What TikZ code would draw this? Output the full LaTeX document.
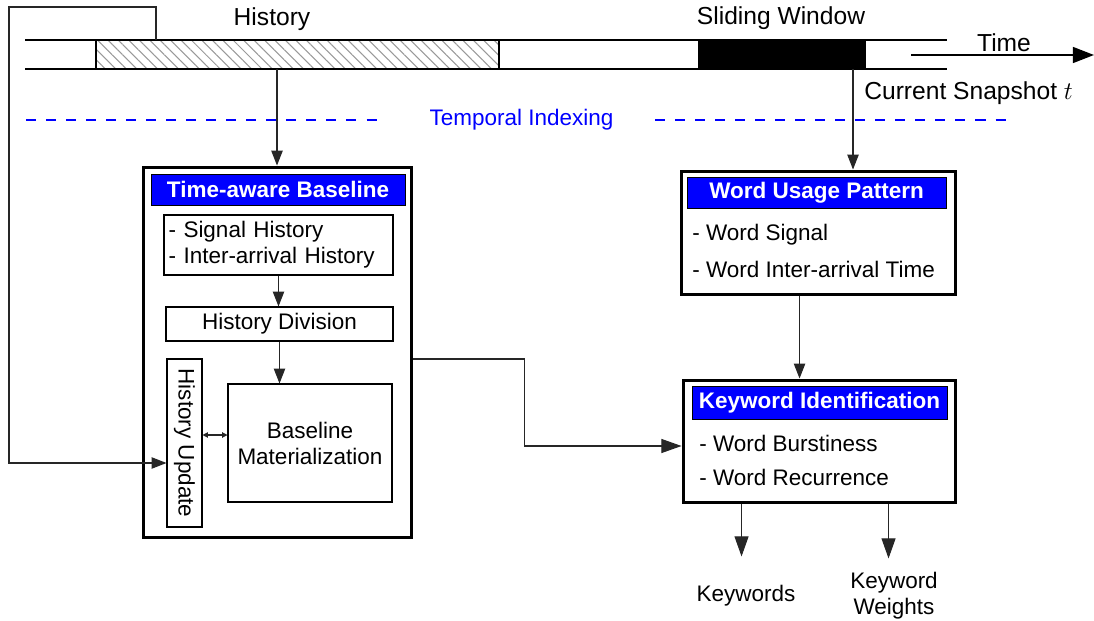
\documentclass[tikz,border=0pt]{standalone}
\usepackage{fontspec}
\setmainfont{Liberation Sans}
\usetikzlibrary{arrows.meta,patterns.meta,calc}

\newcommand\bodyfont{\fontsize{12.8pt}{14.8pt}\selectfont}
\newcommand\largefont{\fontsize{14pt}{16pt}\selectfont}

\begin{document}
\begin{tikzpicture}[x=0.02cm,y=-0.02cm,
  every node/.style={inner sep=0pt,font=\bodyfont},
  link/.style={draw=black!85,line width=0.6pt},
  midarr/.style={link,-{Triangle[length=8.5pt,width=6.5pt]}},
  bigarr/.style={link,-{Triangle[length=11.5pt,width=8pt]}},
  twoway/.style={link,{Triangle[length=3pt,width=3pt]}-{Triangle[length=3pt,width=3pt]}},
  outerbox/.style={draw,line width=1.7pt,rectangle},
  innerbox/.style={draw,line width=0.6pt,rectangle},
  titlebar/.style={draw,line width=0.5pt,fill=blue,text=white,font=\bodyfont\bfseries},
  band/.style={line width=1.1pt},
  idxline/.style={draw=blue,line width=1pt,dash pattern=on 5.7pt off 5.7pt},
]
\useasboundingbox (0,0) rectangle (1094,621);

% ---- time line ----
\draw[band] (25,40) -- (947,40);
\draw[band] (25,69) -- (947,69);
\node[draw,line width=0.9pt,minimum width=8.06cm,minimum height=0.58cm,
      pattern={Lines[angle=-45,distance=4.2pt,line width=0.6pt]},pattern color=black!40]
      (hist) at (297.5,54.5) {};
\node[fill=black,draw,minimum width=3.34cm,minimum height=0.58cm] (sw) at (781.5,54.5) {};
\node[anchor=base,font=\largefont] (histlbl) at (272,26) {History};
\node[anchor=base,font=\largefont] (swlbl) at (781,25) {Sliding Window};

\coordinate (t0) at (911,55);
\coordinate (t1) at (1094,55);
\draw[link,draw=black,line width=1.2pt,-{Triangle[length=12pt,width=9pt]}] (t0) -- (t1);
\node[anchor=base,font=\largefont] (timelbl) at (1004,52) {Time};
\node[anchor=base west,font=\largefont] (snaplbl) at (864,100) {Current Snapshot $t$};

% ---- temporal indexing ----
\coordinate (d0) at (26,120);
\coordinate (d1) at (382,120);
\coordinate (d2) at (655,120);
\coordinate (d3) at (1012,120);
\draw[idxline] (d0) -- (d1);
\draw[idxline] (d2) -- (d3);
\node[anchor=base,text=blue] (idxlbl) at (521.5,126) {Temporal Indexing};

% ---- time-aware baseline ----
\node[outerbox,minimum width=5.38cm,minimum height=7.42cm] (tab) at (277.5,352.5) {};
\node[titlebar,minimum width=5.08cm,minimum height=0.62cm] (tabt) at (278,189.5) {Time-aware Baseline};
\node[innerbox,minimum width=4.58cm,minimum height=1.2cm,text width=4.4cm,align=left] (sh) at (278.5,245)
  {- Signal History\\- Inter-arrival History};
\node[innerbox,minimum width=4.54cm,minimum height=0.68cm] (hd) at (279.5,324) {History Division};
\node[innerbox,minimum width=3.28cm,minimum height=2.36cm,align=center] (bm) at (310,443)
  {Baseline\\Materialization};
\node[innerbox,minimum width=0.7cm,minimum height=3.36cm] (hu) at (184.5,443)
  {\rotatebox{-90}{History Update}};

\draw[midarr] (sh.south) -- (sh.south |- hd.north);
\draw[midarr] (hd.south) -- (hd.south |- bm.north);
\draw[twoway] ($(hu.east)+(0,-8)$) -- ($(bm.west)+(0,-8)$);

% ---- word usage pattern ----
\node[outerbox,minimum width=5.5cm,minimum height=2.48cm] (wup) at (818.5,233) {};
\node[titlebar,minimum width=5.18cm,minimum height=0.62cm] (wupt) at (816.5,192.5) {Word Usage Pattern};
\node[anchor=base west] (wup1) at (692,241) {- Word Signal};
\node[anchor=base west] (wup2) at (692,277) {- Word Inter-arrival Time};

% ---- keyword identification ----
\node[outerbox,minimum width=5.46cm,minimum height=2.46cm] (ki) at (819.5,441.5) {};
\node[titlebar,minimum width=5.1cm,minimum height=0.66cm] (kit) at (819.5,402.5) {Keyword Identification};
\node[anchor=base west] (ki1) at (699,451) {- Word Burstiness};
\node[anchor=base west] (ki2) at (699,485) {- Word Recurrence};

\node[anchor=base] (kw) at (746,601) {Keywords};
\node[align=center,anchor=base] (kwt) at (894,614) {Keyword\\Weights};

% ---- connectors ----
\coordinate (histdrop) at (277,69);
\coordinate (snap) at (853,69);
\coordinate (loop) at (156,40);
\draw[midarr] (histdrop) -- (histdrop |- tab.north);
\draw[midarr] (snap) -- (snap |- wup.north);
\draw[midarr] (loop) -- ++(0,-33) -| ++(-147,456) -- ($(hu.west)+(0,20)$);
\draw[midarr] ($(wup.south west)+(120,0)$) coordinate (wdrop) -- (wdrop |- ki.north);
\draw[bigarr] ($(tab.east)+(0,6.5)$) -- ++(111,0) |- ($(ki.west)+(0,4.5)$);
\draw[bigarr] ($(ki.south west)+(60,0)$) coordinate (kdrop1) -- ++(0,52);
\draw[bigarr] ($(ki.south west)+(207,0)$) coordinate (kdrop2) -- ++(0,54);
\end{tikzpicture}
\end{document}
